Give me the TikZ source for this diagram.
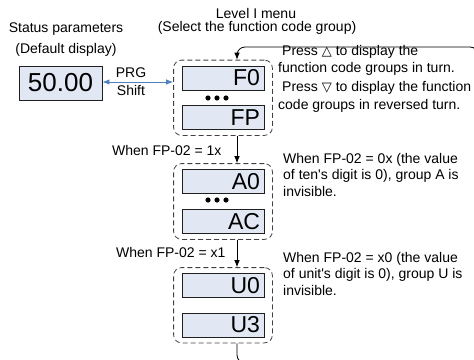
\documentclass[tikz,border=0pt]{standalone}
\usepackage{fontspec}
\setmainfont{Liberation Sans}
\newfontfamily\symfont{DejaVu Sans}
\usetikzlibrary{arrows.meta,positioning,fit}
\definecolor{cBox}{HTML}{E1E8F4}
\definecolor{cEdge}{HTML}{1F1F1F}
\definecolor{cGroup}{HTML}{404040}
\definecolor{cLink}{HTML}{4F81BD}
\tikzset{
  arrow/.style={-{Latex[length=7pt,width=5.5pt]}, line width=0.8pt, draw=black},
  dual/.style ={{Latex[length=7pt,width=5.5pt]}-{Latex[length=7pt,width=5.5pt]}, line width=0.9pt, draw=cLink},
  codebox/.style={draw=cEdge, line width=0.8pt, fill=cBox, text width=74pt, align=right, inner xsep=4pt, inner ysep=0pt, minimum height=24pt, font=\fontsize{23}{23}\selectfont},
  group/.style={draw=cGroup, line width=0.8pt, dash pattern=on 5pt off 3pt, rounded corners=8pt, inner xsep=8pt, inner ysep=5.5pt},
  note/.style ={align=left, anchor=west, inner sep=0pt},
}

\begin{document}
\begin{tikzpicture}[x=1pt,y=-1pt,font=\fontsize{14}{16.5}\selectfont]
        \useasboundingbox (0,0) rectangle (474,359);
        \clip (0,0) rectangle (474,359);
        % titles
        \node (stTitle) at (66,29) {Status parameters};
        \node (stSub) at (66,50) {(Default display)};
        \node (mnTitle) at (256,13) {Level I menu};
        \node (mnSub) at (257,28) {(Select the function code group)};
        % status display
        \node[draw=cEdge, line width=0.8pt, fill=cBox, minimum width=83pt, minimum height=34pt, inner sep=0pt, font=\fontsize{26}{26}\selectfont] (status) at (60.5,83) {50.00};
        % function code groups
        \node[codebox] (F0) at (223,78) {F0};
        \node[codebox] (FP) at (223,117.5) {FP};
        \node[codebox] (A0) at (223,181.5) {A0};
        \node[codebox] (AC) at (223,221.5) {AC};
        \node[codebox] (U0) at (223,285.5) {U0};
        \node[codebox] (U3) at (223,325) {U3};
        \node[group, fit=(F0)(FP)] (grpF) {};
        \node[group, fit=(A0)(AC)] (grpA) {};
        \node[group, fit=(U0)(U3)] (grpU) {};
        \foreach \dx in {208,217,226} {
          \fill (\dx,98) circle (2.6pt);
          \fill (\dx,200) circle (2.6pt);
        }
        % links
        \draw[dual] ([yshift=1pt]status.east) -- ([yshift=1pt]status.east -| grpF.west);
        \node[align=center, font=\fontsize{14}{18}\selectfont] (prg) at (131,81.5) {PRG\\Shift};
        \draw[arrow] ([xshift=14pt]grpF.south) -- ([xshift=14pt]grpA.north);
        \draw[arrow] ([xshift=14pt]grpA.south) -- ([xshift=14pt]grpU.north);
        \node[anchor=east] (whenA) at (225,150) {When FP-02 = 1x};
        \node[anchor=east] (whenU) at (229,252) {When FP-02 = x1};
        \coordinate (loopB) at (478,363);
        \coordinate (loopC) at (478,47);
        \draw[arrow, rounded corners=8pt] ([xshift=14pt]grpU.south) |- (loopB) -- (loopC) -| ([xshift=14pt]grpF.north);
        % notes
        \node[note] (up1) at (282,52) {Press {\symfont\fontsize{13}{13}\selectfont △} to display the};
        \node[note] (up2) at (278,69) {function code groups in turn.};
        \node[note] (dn1) at (282,88) {Press {\symfont\fontsize{13}{13}\selectfont ▽} to display the function};
        \node[note] (dn2) at (278,106) {code groups in reversed turn.};
        \node[note] (noteA) at (283,174.5) {When FP-02 = 0x (the value\\of ten\textquotesingle s digit is 0), group A is\\invisible.};
        \node[note] (noteU) at (283,273.5) {When FP-02 = x0 (the value\\of unit\textquotesingle s digit is 0), group U is\\invisible.};
      \end{tikzpicture}
\end{document}
